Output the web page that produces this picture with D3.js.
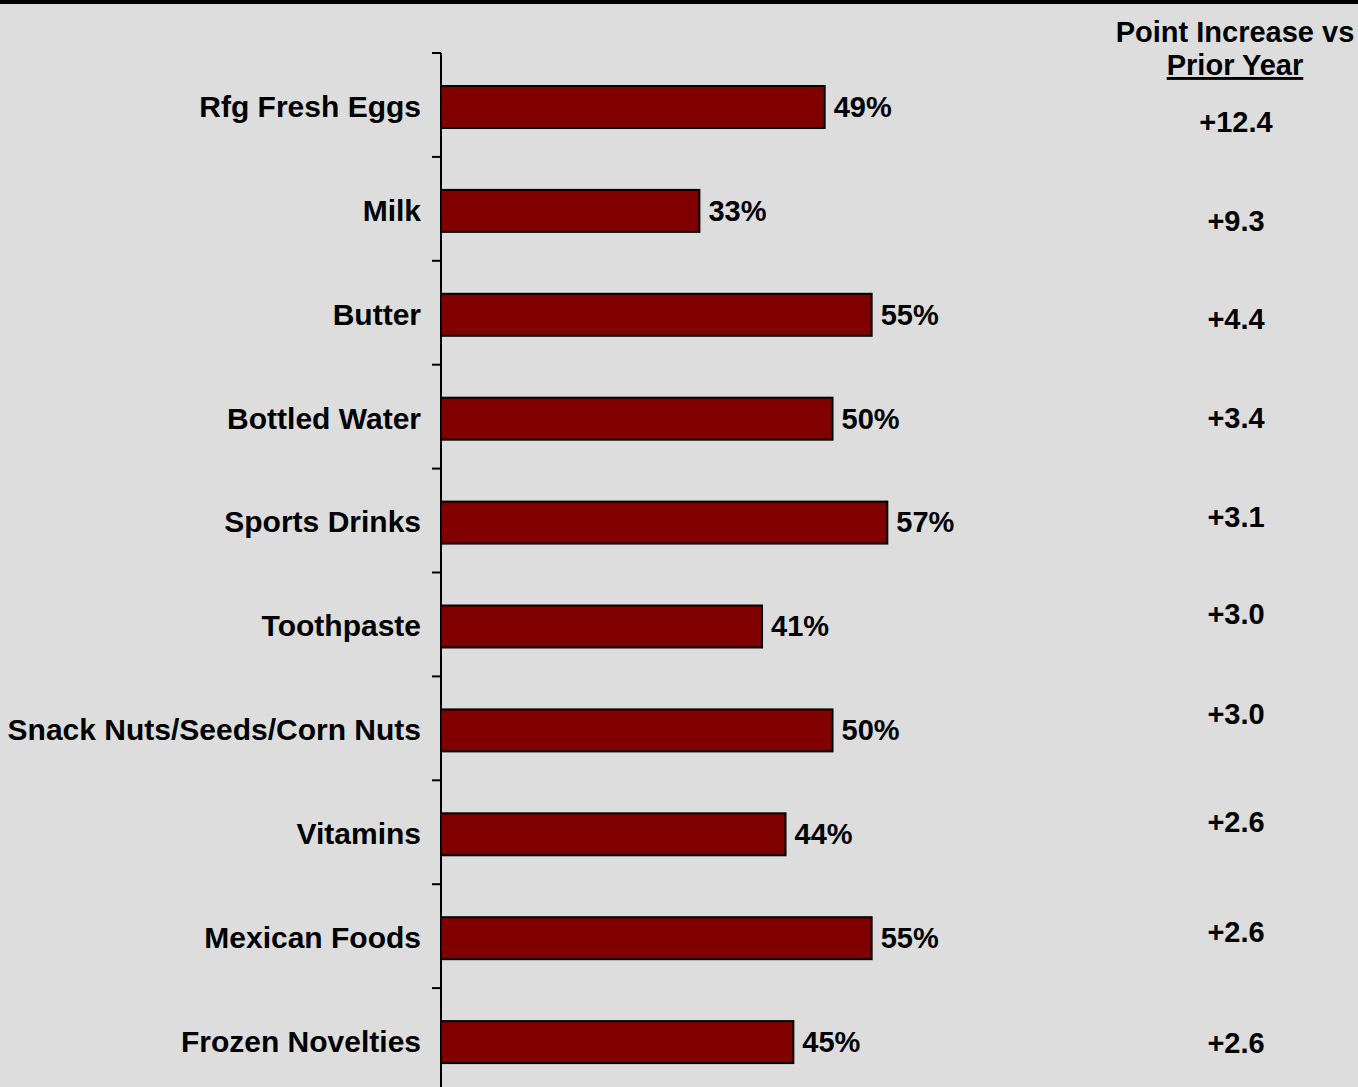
<!DOCTYPE html>
<html>
<head>
<meta charset="utf-8">
<script src="https://cdn.jsdelivr.net/npm/d3@7"></script>
<style>
  html, body { margin: 0; padding: 0; background: #dddddd; }
  svg { display: block; }
  text { font-family: Arial, "Liberation Sans", sans-serif; font-weight: bold; fill: #000; }
</style>
</head>
<body>
<svg id="chart" width="1358" height="1087"></svg>
<script>
// Categories, top to bottom
const categories = [
  "Rfg Fresh Eggs", "Milk", "Butter", "Bottled Water", "Sports Drinks",
  "Toothpaste", "Snack Nuts/Seeds/Corn Nuts", "Vitamins", "Mexican Foods", "Frozen Novelties"
];
// Share (%) for each category
const shares = [49, 33, 55, 50, 57, 41, 50, 44, 55, 45];
// Point increase vs prior year
const increases = [12.4, 9.3, 4.4, 3.4, 3.1, 3.0, 3.0, 2.6, 2.6, 2.6];

// Layout: the increase column sits in its own text block, so each entry is nudged from its bar's centre
const increaseNudge = [25, 20, 14, 9, 4, -2, -6, -2, 4, 11];

const W = 1358, H = 1087;
const svg = d3.select("#chart");

svg.append("rect").attr("x", 0).attr("y", 0).attr("width", W).attr("height", H).attr("fill", "#dddddd");
svg.append("rect").attr("x", 0).attr("y", 0).attr("width", W).attr("height", 4).attr("fill", "#000");

const x0 = 441;
const x = d3.scaleLinear().domain([0, 100]).range([x0, x0 + 783]);
const y = d3.scaleBand().domain(categories).range([53, 53 + 103.9 * categories.length])
  .paddingInner(0.596).paddingOuter(0.298).align(0.533);

// Category axis with ticks between bars
const step = y.step();
const axisG = svg.append("g");
axisG.append("line")
  .attr("x1", x0).attr("x2", x0)
  .attr("y1", y.range()[0]).attr("y2", H + 5)
  .attr("stroke", "#000").attr("stroke-width", 2);
axisG.selectAll("line.tick")
  .data(categories)
  .join("line")
  .attr("class", "tick")
  .attr("x1", x0 - 9).attr("x2", x0)
  .attr("y1", (d, i) => y.range()[0] + i * step)
  .attr("y2", (d, i) => y.range()[0] + i * step)
  .attr("stroke", "#000").attr("stroke-width", 2);

// Category labels
svg.append("g").selectAll("text")
  .data(categories)
  .join("text")
  .attr("x", 421)
  .attr("y", d => y(d) + y.bandwidth() / 2)
  .attr("dy", "0.33em")
  .attr("text-anchor", "end")
  .style("font-size", "30px")
  .text(d => d);

// Bars
svg.append("g").selectAll("rect")
  .data(shares)
  .join("rect")
  .attr("x", x(0))
  .attr("y", (d, i) => y(categories[i]))
  .attr("width", d => x(d) - x(0))
  .attr("height", y.bandwidth())
  .attr("fill", "#800000")
  .attr("stroke", "#000")
  .attr("stroke-width", 2);

// Value labels
svg.append("g").selectAll("text")
  .data(shares)
  .join("text")
  .attr("x", d => x(d) + 9)
  .attr("y", (d, i) => y(categories[i]) + y.bandwidth() / 2)
  .attr("dy", "0.34em")
  .style("font-size", "29px")
  .text(d => d + "%");

// Increase column header
const colX = 1235;
svg.append("text")
  .attr("x", colX).attr("y", 42)
  .attr("text-anchor", "middle")
  .style("font-size", "29px")
  .text("Point Increase vs");
svg.append("text")
  .attr("x", colX).attr("y", 75)
  .attr("text-anchor", "middle")
  .style("font-size", "29px")
  .style("text-decoration", "underline")
  .text("Prior Year");

// Increase values
const fmt = d3.format(".1f");
svg.append("g").selectAll("text")
  .data(increases)
  .join("text")
  .attr("x", colX + 1)
  .attr("y", (d, i) => y(categories[i]) + y.bandwidth() / 2 + increaseNudge[i])
  .attr("text-anchor", "middle")
  .style("font-size", "29px")
  .text(d => "+" + fmt(d));
</script>
</body>
</html>
